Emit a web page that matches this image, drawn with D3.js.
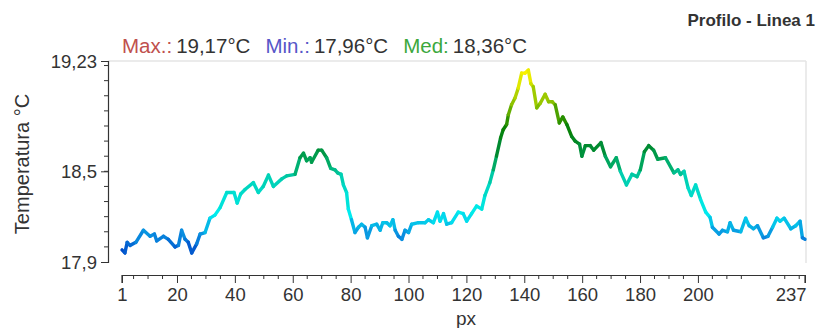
<!DOCTYPE html>
<html>
<head>
<meta charset="utf-8">
<script src="https://cdn.jsdelivr.net/npm/d3@7"></script>
<style>
  body { margin: 0; background: #fff; }
  svg { display: block; font-family: "Liberation Sans", Arial, sans-serif; }
</style>
</head>
<body>
<svg id="chart" width="819" height="328"></svg>
<script>
// values
var pxPos = [1, 2, 2.8, 3.8, 5.8, 8.4, 10.7, 12.2, 13, 15.3, 17, 19.3, 20.5, 21.6, 22.8, 23.9, 25.1, 26.8, 28, 29.7,
  31.4, 33.1, 34.9, 37.2, 39.7, 40.8, 42, 43.5, 46.4, 48.1, 49.8, 51.6, 53.3, 56.2, 57.9, 60.8, 62.5, 63.7, 64.8, 66,
  66.5, 68.8, 70, 71.7, 73.1, 74.6, 75.5, 76.7, 77.5, 78.6, 79.2, 80.3, 81.5, 82.7, 83.8, 85, 85.8, 87.3, 89, 90.2,
  91.1, 92.5, 93.6, 94.6, 95.4, 96.5, 97.7, 98.8, 100, 101.1, 103.4, 105.7, 106.9, 108.6, 110, 110.9, 112.1, 113.2, 114.9, 117.2,
  118.9, 120.1, 121.8, 123.5, 125.3, 126.4, 128.1, 129.3, 130.4, 131.8, 132.7, 133.9, 134.5, 135.6, 136.8, 137.9, 139.1, 140.3, 141.4, 142.3,
  143.1, 144.3, 145.5, 147.2, 148.4, 149.7, 150.7, 152.1, 153.3, 154.7, 156.4, 157.6, 159.1, 159.9, 161.1, 162.8, 164, 166.5, 168, 169.8,
  171.8, 173.2, 175.3, 177.2, 179, 180.1, 181.5, 183, 184.7, 186.1, 188.8, 191.7, 193.1, 194, 195.2, 196.6, 197.7, 199.2, 200.9, 202.7,
  204.2, 205, 207.3, 208.5, 210.2, 211.1, 212.3, 214.8, 216.5, 217.7, 219.2, 220.6, 222.6, 224.2, 225.8, 227.3, 228.4, 229.8, 232.1, 233.8,
  235.3, 236.1, 237];
var temps = [17.98, 17.96, 18.03, 18.01, 18.03, 18.11, 18.07, 18.085, 18.04, 18.07, 18.05, 18.0, 18.01, 18.11, 18.05, 18.03, 17.96, 18.02, 18.085, 18.095,
  18.19, 18.21, 18.26, 18.36, 18.36, 18.29, 18.35, 18.38, 18.425, 18.36, 18.40, 18.475, 18.40, 18.45, 18.47, 18.48, 18.59, 18.62, 18.57, 18.59,
  18.56, 18.64, 18.64, 18.59, 18.52, 18.51, 18.49, 18.48, 18.41, 18.36, 18.25, 18.18, 18.095, 18.13, 18.15, 18.13, 18.06, 18.14, 18.15, 18.11,
  18.16, 18.16, 18.14, 18.18, 18.11, 18.07, 18.05, 18.11, 18.095, 18.15, 18.16, 18.16, 18.18, 18.16, 18.23, 18.17, 18.22, 18.15, 18.16, 18.23,
  18.22, 18.17, 18.22, 18.27, 18.25, 18.34, 18.425, 18.51, 18.60, 18.72, 18.775, 18.81, 18.875, 18.94, 18.985, 19.05, 19.15, 19.15, 19.17, 19.08,
  19.06, 18.92, 18.95, 19.01, 18.96, 18.96, 18.94, 18.82, 18.86, 18.81, 18.73, 18.70, 18.68, 18.60, 18.67, 18.67, 18.64, 18.69, 18.60, 18.53,
  18.59, 18.50, 18.41, 18.48, 18.465, 18.51, 18.63, 18.67, 18.64, 18.58, 18.59, 18.49, 18.51, 18.48, 18.50, 18.39, 18.34, 18.41, 18.315, 18.23,
  18.195, 18.13, 18.085, 18.11, 18.10, 18.16, 18.11, 18.10, 18.19, 18.14, 18.12, 18.14, 18.06, 18.07, 18.13, 18.19, 18.17, 18.19, 18.12, 18.14,
  18.17, 18.06, 18.05];

var xMajor = [1, 20, 40, 60, 80, 100, 120, 140, 160, 180, 200, 237];
var yMajor = [17.9, 18.5, 19.23];
var yLabels = ["17,9", "18,5", "19,23"];
var stats = [
  {name: "Max.:", value: "19,17°C", color: "#c0504d"},
  {name: "Min.:", value: "17,96°C", color: "#5656c8"},
  {name: "Med:", value: "18,36°C", color: "#3ca83c"}
];
var colorStops = [17.96, 18.08, 18.22, 18.45, 18.56, 18.66, 18.8, 18.95, 19.1, 19.17];
var colorRange = ["#0048c8", "#0a8ee0", "#00eef0", "#00d0b4", "#00a860", "#008a30", "#0a8000", "#88c000", "#e0e800", "#fff200"];

var svg = d3.select("#chart");
var x = d3.scaleLinear().domain([1, 237]).range([122, 805]);
var y = d3.scaleLinear().domain([17.9, 19.23]).range([262, 61]);
var color = d3.scaleLinear().domain(colorStops).range(colorRange);

// frame
svg.append("line").attr("x1", 108).attr("x2", 806).attr("y1", 61).attr("y2", 61)
  .attr("stroke", "#e4e4e4").attr("stroke-width", 1.5);
svg.append("line").attr("x1", 806).attr("x2", 806).attr("y1", 61).attr("y2", 263)
  .attr("stroke", "#e4e4e4").attr("stroke-width", 1.5);

// y axis
var yAx = svg.append("g").attr("transform", "translate(108,0)")
  .call(d3.axisLeft(y).tickValues(yMajor).tickSize(7).tickPadding(4)
    .tickFormat(function(d, i) { return yLabels[i]; }));
yAx.append("g").selectAll("line").data(d3.range(18.0, 19.21, 0.1))
  .join("line").attr("x1", -4).attr("x2", 0)
  .attr("y1", function(d) { return y(d); }).attr("y2", function(d) { return y(d); })
  .attr("stroke", "#333");

// x axis
var xAx = svg.append("g").attr("transform", "translate(0,275)")
  .call(d3.axisBottom(x).tickValues(xMajor).tickSize(8).tickPadding(5));
xAx.append("g").selectAll("line").data(d3.range(5, 236, 5).filter(function(d) { return d % 20 != 0; }))
  .join("line").attr("y1", 0).attr("y2", 4)
  .attr("x1", function(d) { return x(d); }).attr("x2", function(d) { return x(d); })
  .attr("stroke", "#333");

svg.selectAll(".domain").attr("stroke", "#333").attr("stroke-width", 1.2);
svg.selectAll(".tick line").attr("stroke", "#333");
svg.selectAll(".tick text").attr("font-size", 18.5).attr("fill", "#333")
  .attr("font-family", "'Liberation Sans', Arial, sans-serif");
yAx.selectAll(".tick text").attr("dy", "0.34em");
// last label sits left of its tick, as in the reference
xAx.selectAll(".tick text").filter(function(d) { return d === 237; })
  .attr("text-anchor", "end").attr("x", 1);
yAx.select(".domain").attr("d", "M-7,61.5H0.5V262.5H-7");
xAx.select(".domain").attr("d", "M122,8V0.5H805V8");

// axis titles
svg.append("text").attr("transform", "translate(29,164) rotate(-90)")
  .attr("text-anchor", "middle").attr("font-size", 20).attr("fill", "#333")
  .text("Temperatura °C");
svg.append("text").attr("x", 466).attr("y", 325).attr("text-anchor", "middle")
  .attr("font-size", 19).attr("fill", "#333").text("px");

// title
svg.append("text").attr("x", 815).attr("y", 26).attr("text-anchor", "end")
  .attr("font-size", 17).attr("font-weight", "bold").attr("fill", "#333")
  .text("Profilo - Linea 1");

// stats header
var hdr = svg.append("text").attr("x", 122).attr("y", 53).attr("font-size", 20.5);
stats.forEach(function(s, i) {
  hdr.append("tspan").attr("fill", s.color).attr("dx", i ? 15 : 0).text(s.name);
  hdr.append("tspan").attr("fill", "#333").attr("dx", 4).text(s.value);
});

// profile line, coloured by value
var pts = pxPos.map(function(p, i) { return {x: p, t: temps[i]}; });
svg.append("g").selectAll("line").data(d3.pairs(pts)).join("line")
  .attr("x1", function(d) { return x(d[0].x); }).attr("y1", function(d) { return y(d[0].t); })
  .attr("x2", function(d) { return x(d[1].x); }).attr("y2", function(d) { return y(d[1].t); })
  .attr("stroke", function(d) { return color((d[0].t + d[1].t) / 2); })
  .attr("stroke-width", 3.4).attr("stroke-linecap", "round");
</script>
</body>
</html>
